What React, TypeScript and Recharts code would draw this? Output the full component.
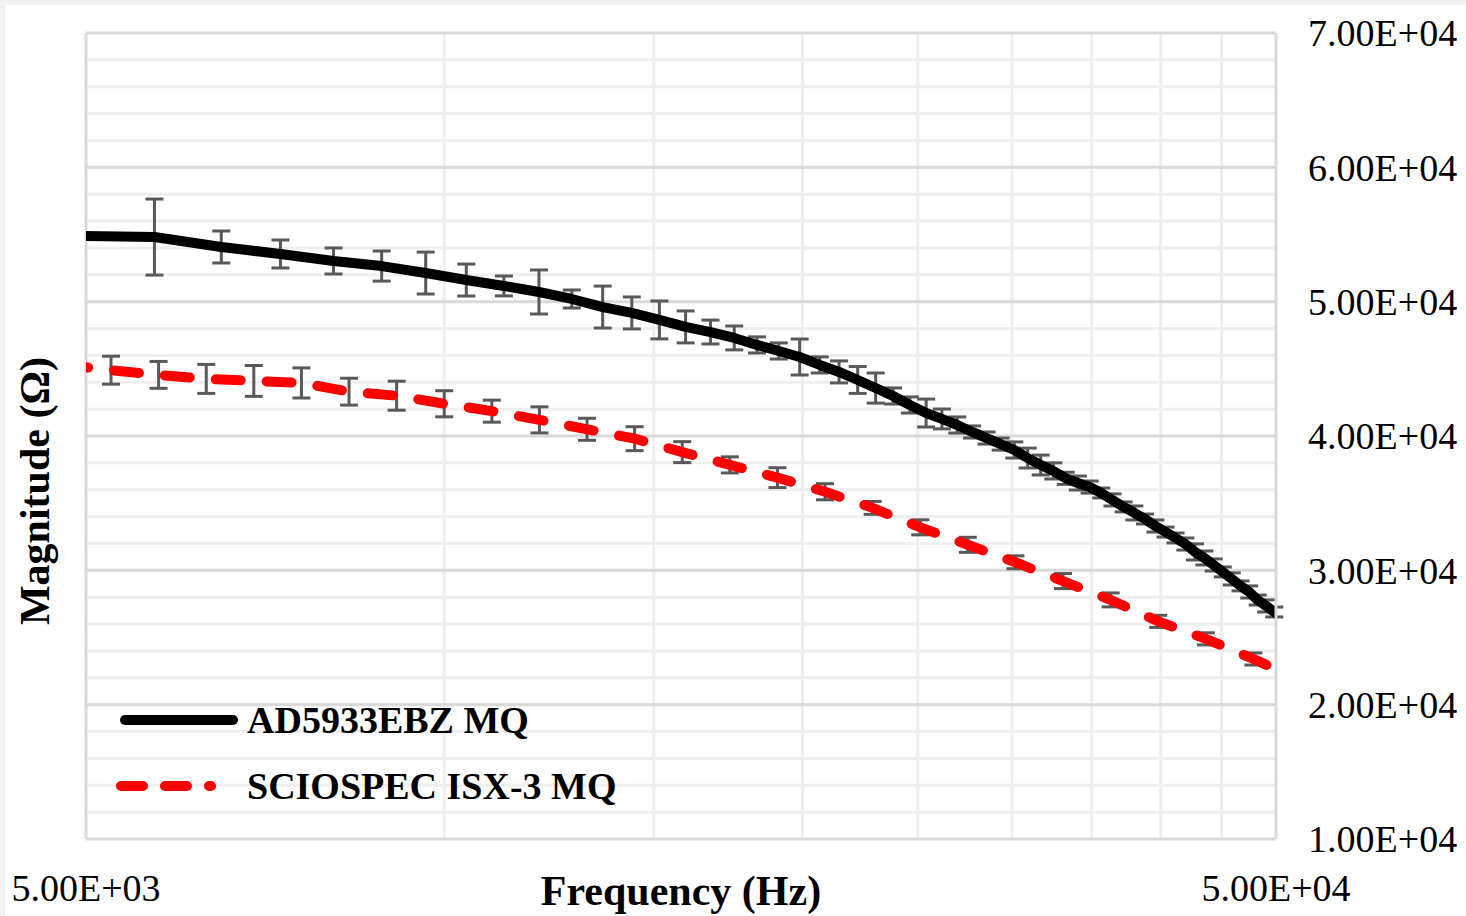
import React from 'react';
import {
  LineChart, Line, XAxis, YAxis, CartesianGrid, ErrorBar, ReferenceLine, Label
} from 'recharts';

// AD5933EBZ MQ (black), linear frequency sweep
const blackFreq = [4920, 5708, 6496, 7284, 8072, 8860, 9648, 10436, 11224, 12012, 12800, 13588, 14376, 15164, 15952, 16740, 17528, 18316, 19104, 19892, 20680, 21468, 22256, 23044, 23832, 24620, 25408, 26196, 26984, 27772, 28560, 29348, 30136, 30924, 31712, 32500, 33288, 34076, 34864, 35652, 36440, 37228, 38016, 38804, 39592, 40380, 41168, 41956, 42744, 43532, 44320, 45108, 45896, 46684, 47472, 48260, 49048, 49836, 50624];
const blackMag = [54890, 54810, 54070, 53550, 53030, 52650, 52130, 51610, 51170, 50720, 50200, 49600, 49160, 48640, 48120, 47740, 47300, 46780, 46330, 45880, 45290, 44770, 44170, 43570, 42980, 42310, 41710, 41270, 40820, 40300, 39850, 39400, 38960, 38360, 37840, 37400, 36850, 36500, 36200, 35760, 35240, 34720, 34270, 33820, 33300, 32850, 32410, 31960, 31370, 30920, 30400, 29880, 29360, 28840, 28390, 27790, 27350, 26900, 26450];
const blackErr = [970, 2830, 1190, 1040, 970, 1120, 1560, 1190, 740, 1640, 670, 1560, 1190, 1410, 1190, 890, 890, 600, 600, 1340, 600, 820, 1000, 1120, 600, 600, 1040, 740, 600, 450, 450, 450, 600, 740, 740, 600, 450, 520, 450, 370, 450, 370, 520, 370, 450, 370, 370, 450, 600, 520, 450, 370, 450, 370, 450, 370, 450, 370, 370];

// SCIOSPEC ISX-3 MQ (red), log frequency sweep
const redFreq = [4786, 5248, 5754, 6310, 6918, 7586, 8318, 9120, 10000, 10965, 12023, 13183, 14454, 15849, 17378, 19055, 20893, 22909, 25119, 27542, 30200, 33113, 36308, 39811, 43652, 47863, 52481];
const redMag = [45300, 44900, 44550, 44250, 44100, 43950, 43300, 43000, 42400, 41850, 41200, 40500, 39800, 38800, 37850, 36900, 35850, 34650, 33200, 31900, 30600, 29200, 27800, 26200, 24900, 23400, 21800];
const redErr = [1000, 1040, 1000, 1080, 1150, 1120, 1000, 1080, 970, 820, 970, 820, 890, 780, 600, 740, 600, 480, 560, 560, 480, 560, 520, 450, 450, 450, 450];

const xTicks = [5000, 50000];
const xGrid = [10000, 15000, 20000, 25000, 30000, 35000, 40000, 45000];
const yTicks = [10000, 20000, 30000, 40000, 50000, 60000, 70000];
const yMajor = [20000, 30000, 40000, 50000, 60000];
const yMinor = [12000, 14000, 16000, 18000, 22000, 24000, 26000, 28000, 32000, 34000, 36000, 38000, 42000, 44000, 46000, 48000, 52000, 54000, 56000, 58000, 62000, 64000, 66000, 68000];

const X_MIN = 5000;
const X_MAX = 50000;

const blackData = blackFreq.map((f, i) => ({ f, y: blackMag[i], e: blackErr[i] }));
const redData = redFreq.map((f, i) => ({ f, y: redMag[i], e: redErr[i] }));
// error bars are not clipped by recharts, so only keep the points inside the axis range
const inRange = (d: { f: number }) => d.f >= X_MIN && d.f <= X_MAX;
const blackErrData = blackData.filter(inRange);
const redErrData = redData.filter(inRange);

const FONT = '"Liberation Serif", "Times New Roman", serif';
const BORDER = '#d9d9d9';

const sci = (v: number) => {
  const [m, e] = v.toExponential(2).split('e');
  const n = parseInt(e, 10);
  return `${m}E${n < 0 ? '-' : '+'}${String(Math.abs(n)).padStart(2, '0')}`;
};

const tickStyle = { fontSize: 38, fill: '#000', fontFamily: FONT };

export default function App() {
  return (
    <div style={{ position: 'absolute', left: 0, top: 0, width: 1466, height: 916, background: '#f2f2f2', overflow: 'hidden' }}>
      <div style={{ position: 'absolute', left: 5, top: 5, right: 0, bottom: 0, background: '#fff' }} />
      <div style={{ position: 'absolute', left: 0, top: 0 }}>
        <LineChart width={1466} height={916} margin={{ top: 33, right: 0, bottom: 0, left: 86 }}>
          <CartesianGrid
            horizontalValues={yMinor}
            verticalValues={xGrid}
            stroke="#efefef"
            strokeWidth={3}
          />
          {yMajor.map((v) => (
            <ReferenceLine key={`h${v}`} y={v} stroke={BORDER} strokeWidth={3} />
          ))}
          <ReferenceLine y={70000} stroke={BORDER} strokeWidth={3} />
          <ReferenceLine x={X_MIN} stroke={BORDER} strokeWidth={3} />
          <XAxis
            dataKey="f"
            type="number"
            scale="log"
            domain={[X_MIN, X_MAX]}
            allowDataOverflow
            ticks={xTicks}
            interval={0}
            tickFormatter={sci}
            tick={tickStyle}
            tickLine={false}
            tickSize={0}
            tickMargin={35}
            height={77}
            axisLine={{ stroke: BORDER, strokeWidth: 3 }}
          >
            <Label
              value="Frequency (Hz)"
              position="insideBottom"
              offset={11}
              style={{ fontSize: 42, fontWeight: 'bold', fill: '#000', fontFamily: FONT }}
            />
          </XAxis>
          <YAxis
            orientation="right"
            type="number"
            domain={[10000, 70000]}
            allowDataOverflow
            ticks={yTicks}
            interval={0}
            tickFormatter={sci}
            tick={tickStyle}
            tickLine={false}
            tickSize={0}
            tickMargin={32}
            width={190}
            axisLine={{ stroke: BORDER, strokeWidth: 3 }}
          />
          {/* error bars first so the lines sit on top */}
          <Line data={blackErrData} dataKey="y" stroke="none" dot={false} activeDot={false} legendType="none" isAnimationActive={false}>
            <ErrorBar dataKey="e" direction="y" width={9} strokeWidth={3} stroke="#595959" isAnimationActive={false} />
          </Line>
          <Line data={redErrData} dataKey="y" stroke="none" dot={false} activeDot={false} legendType="none" isAnimationActive={false}>
            <ErrorBar dataKey="e" direction="y" width={9} strokeWidth={3} stroke="#595959" isAnimationActive={false} />
          </Line>
          <Line
            data={blackData}
            dataKey="y"
            name="AD5933EBZ MQ"
            type="linear"
            stroke="#000"
            strokeWidth={10}
            strokeLinejoin="round"
            dot={false}
            activeDot={false}
            isAnimationActive={false}
          />
          <Line
            data={redData}
            dataKey="y"
            name="SCIOSPEC ISX-3 MQ"
            type="linear"
            stroke="#ff0000"
            strokeWidth={10}
            strokeDasharray="25 26"
            strokeLinecap="round"
            dot={false}
            activeDot={false}
            isAnimationActive={false}
          />
        </LineChart>
      </div>
      <svg width={1466} height={916} style={{ position: 'absolute', left: 0, top: 0, pointerEvents: 'none' }}>
        <text
          transform="translate(49,491) rotate(-90)"
          textAnchor="middle"
          style={{ fontSize: 42, fontWeight: 'bold', fontFamily: FONT }}
          fill="#000"
        >
          Magnitude (Ω)
        </text>
        <g>
          <line x1={125} y1={720} x2={233} y2={720} stroke="#000" strokeWidth={10} strokeLinecap="round" />
          <text x={247} y={733} style={{ fontSize: 38, fontWeight: 'bold', fontFamily: FONT }} fill="#000">AD5933EBZ MQ</text>
          <line x1={121} y1={786} x2={211} y2={786} stroke="#ff0000" strokeWidth={10} strokeLinecap="round" strokeDasharray="22 22" />
          <text x={247} y={799} style={{ fontSize: 38, fontWeight: 'bold', fontFamily: FONT }} fill="#000">SCIOSPEC ISX-3 MQ</text>
        </g>
      </svg>
    </div>
  );
}
